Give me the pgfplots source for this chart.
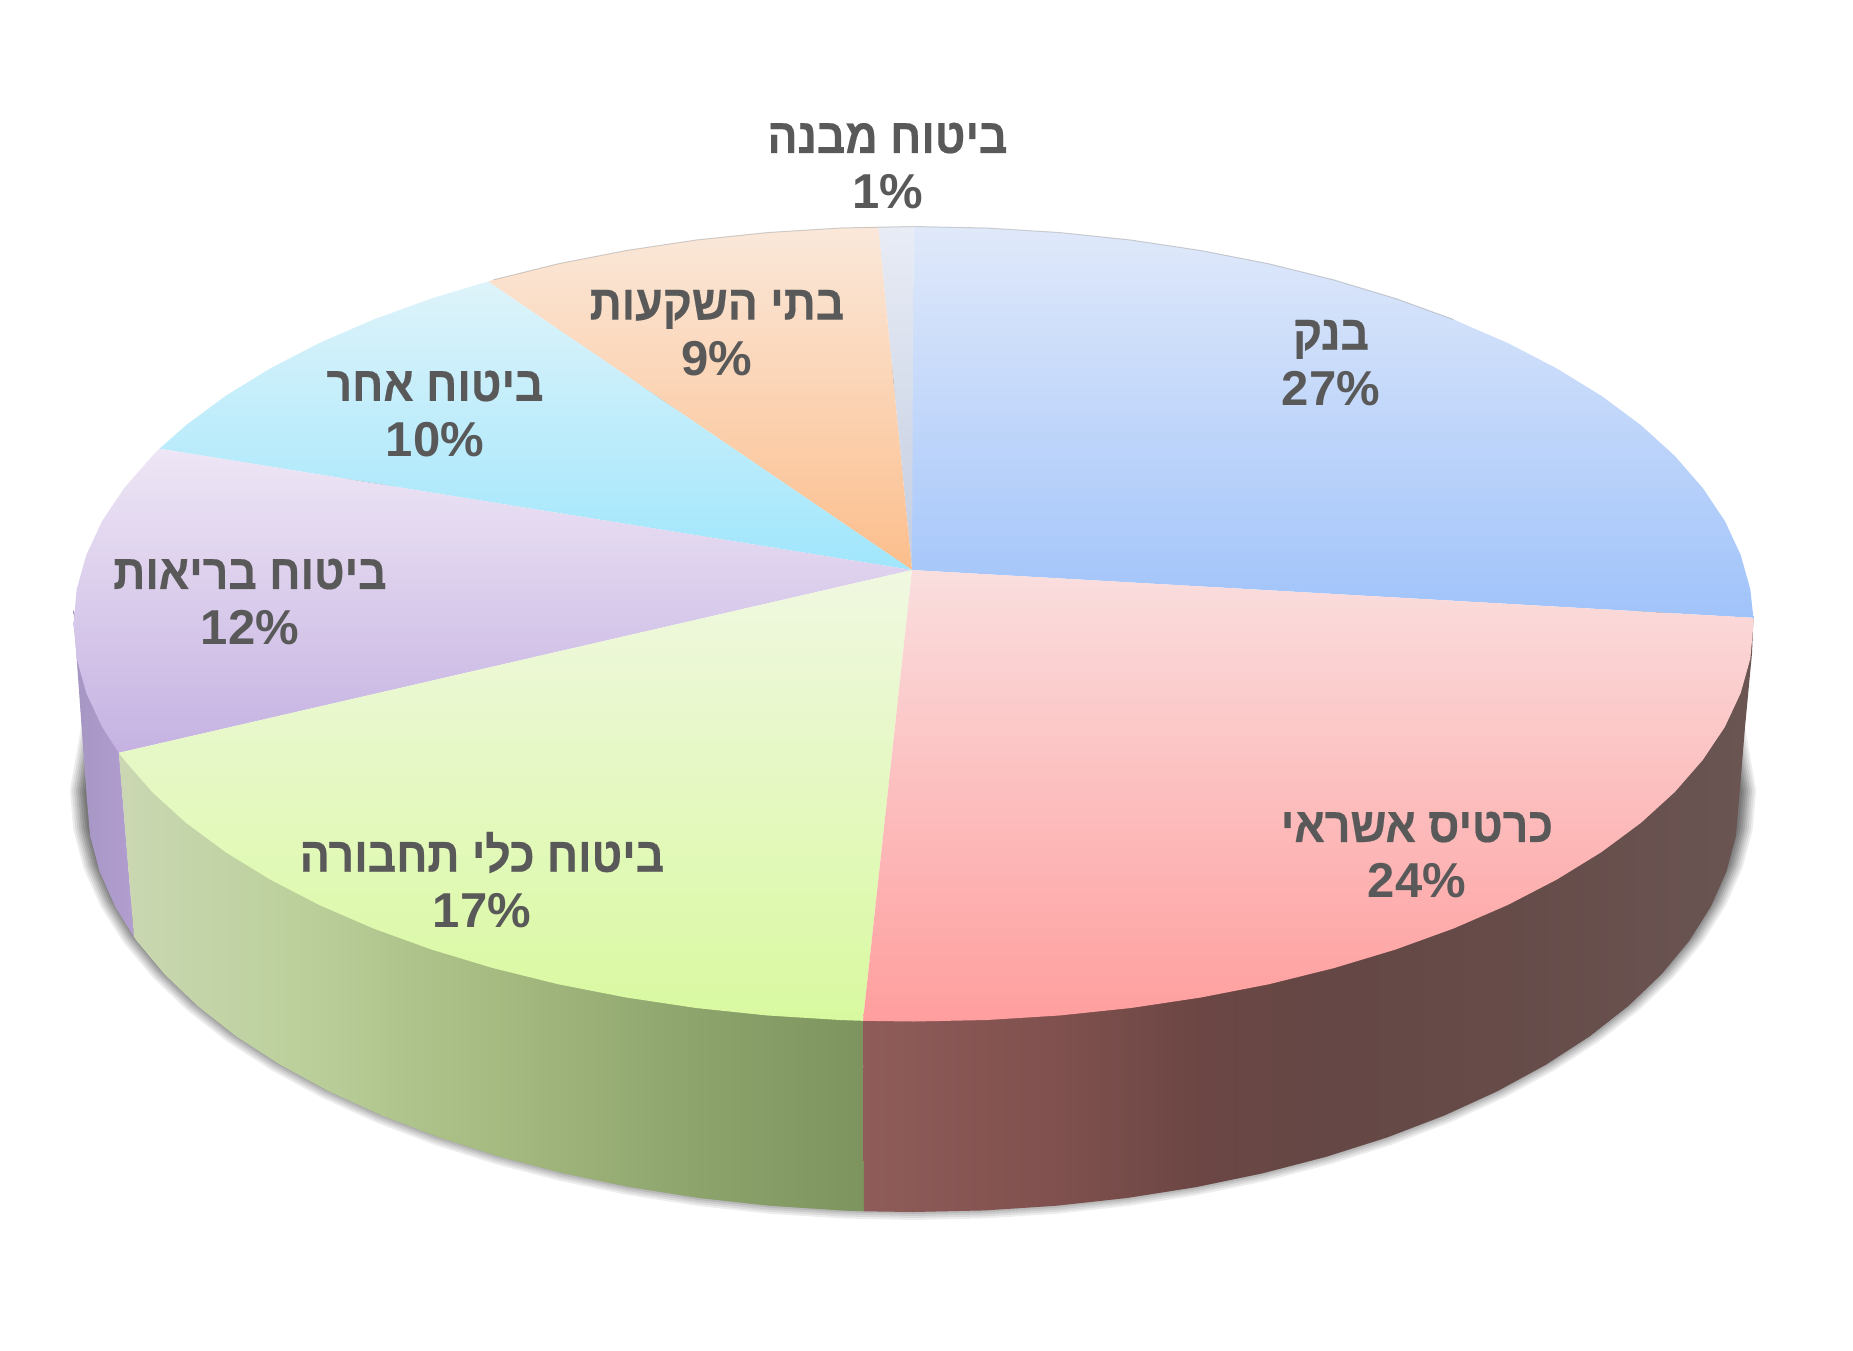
\documentclass[border=0pt]{standalone}
\usepackage{pgfplots}
\usepackage{pgfplotstable}
\usepackage{fontspec}
\pgfplotsset{compat=1.18}
\TeXXeTstate=1
\newfontfamily\heb[Script=Hebrew,FakeStretch=0.91,FakeBold=0.4]{Liberation Sans Bold}
\newfontfamily\lat{Liberation Sans}
\definecolor{lab}{RGB}{89,89,89}
\pgfdeclarehorizontalshading{creditside}{100bp}{rgb(0bp)=(.56,.36,.35); rgb(25bp)=(.56,.36,.35); rgb(36bp)=(.50,.315,.305); rgb(44bp)=(.42,.275,.265); rgb(51bp)=(.395,.28,.27); rgb(61bp)=(.40,.295,.285); rgb(75bp)=(.415,.335,.325); rgb(100bp)=(.415,.335,.325)}
\pgfdeclarehorizontalshading{carside}{100bp}{rgb(0bp)=(.795,.845,.70); rgb(25bp)=(.795,.845,.70); rgb(37bp)=(.735,.815,.61); rgb(50.6bp)=(.645,.73,.5); rgb(64bp)=(.55,.64,.425); rgb(75bp)=(.49,.58,.37); rgb(100bp)=(.49,.58,.37)}
\pgfplotstableread{
x y
87 800
90.1 835.9
99.6 871.5
115.2 906.6
136.8 940.9
164.4 974.1
197.7 1006
236.3 1036.3
280.3 1064.8
328.9 1091.3
382 1115.6
439.2 1137.5
500 1156.8
563.9 1173.4
630.5 1187.2
699.2 1198
769.6 1205.7
841 1210.4
913 1212
985 1210.4
1056.4 1205.7
1126.8 1198
1195.5 1187.2
1262.1 1173.4
1326 1156.8
1386.8 1137.5
1444 1115.6
1497.1 1091.3
1545.7 1064.8
1589.7 1036.3
1628.3 1006
1661.6 974.1
1689.2 940.9
1710.8 906.6
1726.4 871.5
1735.9 835.9
1739 800
1726.4 728.5
1689.2 659.1
1628.3 594
1545.7 535.2
1444 484.4
1326 443.2
1195.5 412.8
1056.4 394.3
913 388
769.6 394.3
630.5 412.8
500 443.2
382 484.4
280.3 535.2
197.7 594
136.8 659.1
99.6 728.5
}\shadowrim
\newcommand{\lbl}[4]{\node[align=center,text=lab,font=\fontsize{24.5}{28}\selectfont] at (axis cs:#1,#2) {{\heb #3}\\{\lat\bfseries #4\%}};}
\begin{document}
\begin{tikzpicture}
\useasboundingbox (0,0) rectangle (926.5pt,675pt);
\begin{axis}[width=926.5pt,height=675pt,scale only axis,xmin=0,xmax=1853,ymin=0,ymax=1350,y dir=reverse,hide axis,clip=false]
% soft shadow under the pie
\addplot[draw=black,opacity=.07,line width=17pt,line join=round,yshift=4.5pt] table[x=x,y=y]{\shadowrim} --cycle;
\addplot[draw=black,opacity=.07,line width=15pt,line join=round,yshift=4.5pt] table[x=x,y=y]{\shadowrim} --cycle;
\addplot[draw=black,opacity=.08,line width=13pt,line join=round,yshift=4.5pt] table[x=x,y=y]{\shadowrim} --cycle;
\addplot[draw=black,opacity=.09,line width=11pt,line join=round,yshift=4.5pt] table[x=x,y=y]{\shadowrim} --cycle;
\addplot[draw=black,opacity=.1,line width=9pt,line join=round,yshift=4.5pt] table[x=x,y=y]{\shadowrim} --cycle;
\addplot[draw=black,opacity=.1,line width=7pt,line join=round,yshift=4.5pt] table[x=x,y=y]{\shadowrim} --cycle;
\addplot[draw=black,opacity=.1,line width=5pt,line join=round,yshift=4.5pt] table[x=x,y=y]{\shadowrim} --cycle;
\addplot[draw=black,opacity=.1,line width=3pt,line join=round,yshift=4.5pt] table[x=x,y=y]{\shadowrim} --cycle;
% side walls
\addplot[draw=none,left color={rgb,255:red,165;green,150;blue,195},right color={rgb,255:red,178;green,158;blue,208}] coordinates {(73.5,610)(77,663)(82,733)(87,800)(90.1,835.9)(99.6,871.5)(115.2,906.6)(134,936.9)(119,752.8)};
\addplot[draw=none,shading=carside] coordinates {(118.8,752.8)(134,936.9)(136.8,940.9)(164.4,974.1)(197.7,1006)(236.3,1036.3)(280.3,1064.8)(328.9,1091.3)(382,1115.6)(439.2,1137.5)(500,1156.8)(563.9,1173.4)(630.5,1187.2)(699.2,1198)(769.6,1205.7)(841,1210.4)(864,1211.3)(863,1020.8)};
\addplot[draw=none,shading=creditside] coordinates {(863,1020.8)(864,1211.3)(913,1212)(985,1210.4)(1056.4,1205.7)(1126.8,1198)(1195.5,1187.2)(1262.1,1173.4)(1326,1156.8)(1386.8,1137.5)(1444,1115.6)(1497.1,1091.3)(1545.7,1064.8)(1589.7,1036.3)(1628.3,1006)(1661.6,974.1)(1689.2,940.9)(1710.8,906.6)(1726.4,871.5)(1735.9,835.9)(1739,800)(1745,727)(1752,653)(1753.4,617.8)};
% top faces: bank 27
\addplot[draw=none,top color={rgb,255:red,224;green,233;blue,250},bottom color={rgb,255:red,160;green,195;blue,250}] coordinates {(912,570)(1753.4,617.8)(1750.3,589.3)(1740.7,555)(1724.9,521.1)(1702.8,488.1)(1674.8,456)(1641,425.2)(1601.6,396)(1556.9,368.5)(1507.5,342.9)(1453.5,319.5)(1395.3,298.4)(1333.5,279.8)(1268.5,263.7)(1200.8,250.5)(1130.9,240)(1059.3,232.5)(986.7,228)(913.5,226.5)};
% building 1
\addplot[draw=none,top color={rgb,255:red,232;green,236;blue,245},bottom color={rgb,255:red,195;green,205;blue,225}] coordinates {(912,570)(913.5,226.5)(878.3,226.9)};
% investment houses 9
\addplot[draw=none,top color={rgb,255:red,250;green,232;blue,218},bottom color={rgb,255:red,252;green,190;blue,140}] coordinates {(912,570)(878.3,226.9)(840.3,228)(767.7,232.5)(696.1,240)(626.2,250.5)(558.5,263.7)(493.5,279.8)(488,281.5)};
% other insurance 10
\addplot[draw=none,top color={rgb,255:red,222;green,243;blue,250},bottom color={rgb,255:red,160;green,230;blue,252}] coordinates {(912,570)(488,281.5)(431.7,298.4)(373.5,319.5)(319.5,342.9)(270.1,368.5)(225.4,396)(186,425.2)(159.5,448.7)};
% health 12
\addplot[draw=none,top color={rgb,255:red,238;green,230;blue,245},bottom color={rgb,255:red,197;green,178;blue,226}] coordinates {(912,570)(159.5,448.7)(152.2,456)(124.2,488.1)(102.1,521.1)(86.3,555)(76.7,589.3)(73.5,624)(76.7,658.7)(86.3,693)(102.1,726.9)(118.8,752.8)};
% vehicles 17
\addplot[draw=none,top color={rgb,255:red,240;green,248;blue,225},bottom color={rgb,255:red,217;green,249;blue,160}] coordinates {(912,570)(118.8,752.8)(124.2,759.9)(152.2,792)(186,822.8)(225.4,852)(270.1,879.5)(319.5,905.1)(373.5,928.5)(431.7,949.6)(493.5,968.2)(558.5,984.3)(626.2,997.5)(696.1,1008)(767.7,1015.5)(840.3,1020)(863,1020.8)};
% credit card 24
\addplot[draw=none,top color={rgb,255:red,250;green,222;blue,222},bottom color={rgb,255:red,255;green,158;blue,158}] coordinates {(912,570)(863,1020.8)(913.5,1021.5)(986.7,1020)(1059.3,1015.5)(1130.9,1008)(1200.8,997.5)(1268.5,984.3)(1333.5,968.2)(1395.3,949.6)(1453.5,928.5)(1507.5,905.1)(1556.9,879.5)(1601.6,852)(1641,822.8)(1674.8,792)(1702.8,759.9)(1724.9,726.9)(1740.7,693)(1750.3,658.7)(1753.5,624)(1753.4,617.8)};
% faint back edge
\addplot[draw=gray,opacity=.35,line width=.5pt] coordinates {(1453.5,319.5)(1395.3,298.4)(1333.5,279.8)(1268.5,263.7)(1200.8,250.5)(1130.9,240)(1059.3,232.5)(986.7,228)(913.5,226.5)(840.3,228)(767.7,232.5)(696.1,240)(626.2,250.5)(558.5,263.7)(493.5,279.8)};
\lbl{1331}{363}{\beginR בנק\endR}{27}
\lbl{1417}{855}{\beginR כרטיס אשראי\endR}{24}
\lbl{482}{880}{\beginR ביטוח כלי תחבורה\endR}{17}
\lbl{250}{602}{\beginR ביטוח בריאות\endR}{12}
\lbl{435}{414}{\beginR ביטוח אחר\endR}{10}
\lbl{717}{333}{\beginR בתי השקעות\endR}{9}
\lbl{887.5}{166}{\beginR ביטוח מבנה\endR}{1}
\end{axis}
\end{tikzpicture}
\end{document}
